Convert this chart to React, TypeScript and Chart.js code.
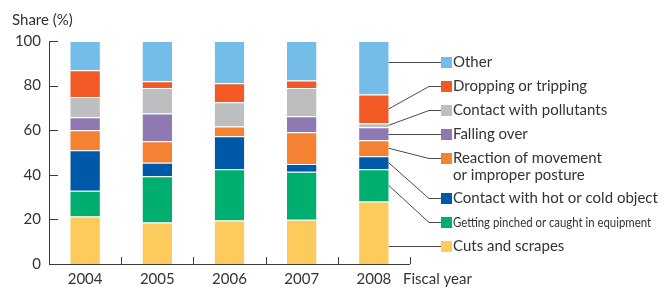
import React, { useEffect, useRef } from "react";
import { Chart, registerables } from "chart.js";

Chart.register(...registerables);

const years = ["2004", "2005", "2006", "2007", "2008"];
const yTicks = [0, 20, 40, 60, 80, 100];

const cuts = [21.3, 18.6, 19.5, 19.8, 28.0];
const pinched = [11.6, 20.8, 23.0, 21.6, 14.5];
const hotCold = [18.1, 6.0, 14.8, 3.4, 5.8];
const reaction = [9.0, 9.6, 4.4, 14.3, 7.2];
const fallingOver = [5.8, 12.5, 0, 7.1, 5.8];
const pollutants = [9.1, 11.4, 10.8, 12.7, 1.8];
const dropping = [12.0, 3.1, 8.6, 3.4, 12.9];
const other = [13.1, 18.0, 18.9, 17.7, 24.0];

const seriesLabels = [
  ["Cuts and scrapes"],
  ["Getting pinched or caught in equipment"],
  ["Contact with hot or cold object"],
  ["Reaction of movement", "or improper posture"],
  ["Falling over"],
  ["Contact with pollutants"],
  ["Dropping or tripping"],
  ["Other"],
];
const seriesData = [cuts, pinched, hotCold, reaction, fallingOver, pollutants, dropping, other];
const seriesColors = ["#FDCB5B", "#00AF6F", "#0058A8", "#F58233", "#8E79B2", "#BCBEC0", "#F15A24", "#74BDE8"];

// legend layout (y centers of first line, bottom-up order)
const legendY = [246, 221.5, 197.5, 158, 134, 110, 86, 62];

const FONT = "Lato, 'Open Sans', sans-serif";
const TEXT = "#333333";

const overlay = {
  id: "overlay",
  afterDraw(chart: any) {
    const ctx = chart.ctx;
    const { left, right, top, bottom } = chart.chartArea;
    const ys = chart.scales.y;
    const xs = chart.scales.x;
    ctx.save();
    ctx.strokeStyle = "#3a3a3a";
    ctx.lineWidth = 1;
    // axes
    ctx.beginPath();
    ctx.moveTo(Math.round(left) + 0.5, top);
    ctx.lineTo(Math.round(left) + 0.5, Math.round(bottom) + 0.5);
    ctx.lineTo(right, Math.round(bottom) + 0.5);
    ctx.stroke();
    // y ticks (inside)
    yTicks.forEach((v) => {
      const y = Math.round(ys.getPixelForValue(v)) + 0.5;
      ctx.beginPath();
      ctx.moveTo(left, y);
      ctx.lineTo(left + 9, y);
      ctx.stroke();
    });
    // x ticks at category boundaries
    const n = years.length;
    const w = (right - left) / n;
    for (let k = 1; k <= n; k++) {
      const x = Math.round(left + k * w) + 0.5;
      ctx.beginPath();
      ctx.moveTo(x, bottom);
      ctx.lineTo(x, bottom - 7);
      ctx.stroke();
    }
    // titles
    ctx.fillStyle = TEXT;
    ctx.font = `15px ${FONT}`;
    ctx.textBaseline = "middle";
    ctx.textAlign = "left";
    ctx.fillText("Share (%)", 12, 20);
    ctx.fillText("Fiscal year", 403, 279);

    // legend + leader lines
    const lastIdx = years.length - 1;
    const squareX = 441;
    const elbowX = 429;
    seriesLabels.forEach((lines, i) => {
      const meta = chart.getDatasetMeta(i);
      const bar = meta.data[lastIdx] as any;
      const ly = legendY[i];
      const barRight = bar.x + bar.width / 2;
      const segTop = Math.min(bar.y, bar.base);
      const segBot = Math.max(bar.y, bar.base);
      let ay: number;
      if (ly >= segTop + 2 && ly <= segBot - 2) ay = ly;
      else ay = (segTop + segBot) / 2;
      ctx.strokeStyle = "#4a4a4a";
      ctx.lineWidth = 1;
      ctx.beginPath();
      if (Math.abs(ay - ly) < 0.5) {
        ctx.moveTo(barRight, Math.round(ly) + 0.5);
        ctx.lineTo(squareX, Math.round(ly) + 0.5);
      } else {
        ctx.moveTo(barRight, ay);
        ctx.lineTo(elbowX, Math.round(ly) + 0.5);
        ctx.lineTo(squareX, Math.round(ly) + 0.5);
      }
      ctx.stroke();
      ctx.fillStyle = seriesColors[i];
      ctx.fillRect(squareX, Math.round(ly) - 5, 11, 11);
      ctx.fillStyle = TEXT;
      ctx.textAlign = "left";
      ctx.textBaseline = "middle";
      if (i === 1) {
        ctx.font = `14px ${FONT}`;
        const tw = ctx.measureText(lines[0]).width;
        const target = 198;
        ctx.save();
        ctx.translate(453, ly + 0.5);
        ctx.scale(target / tw, 1);
        ctx.fillText(lines[0], 0, 0);
        ctx.restore();
      } else {
        ctx.font = `15px ${FONT}`;
        lines.forEach((t, j) => ctx.fillText(t, 453, ly + 0.5 + j * 16.5));
      }
    });
    ctx.restore();
  },
};

export default function App() {
  const ref = useRef<HTMLCanvasElement | null>(null);
  useEffect(() => {
    if (!ref.current) return;
    const chart = new Chart(ref.current, {
      type: "bar",
      data: {
        labels: years,
        datasets: seriesData.map((d, i) => ({
          label: seriesLabels[i].join(" "),
          data: d,
          backgroundColor: seriesColors[i],
          borderColor: "#ffffff",
          borderWidth: { top: 1, left: 0, right: 0, bottom: 0 },
          borderSkipped: false,
          barPercentage: 0.41,
          categoryPercentage: 1,
        })),
      },
      options: {
        responsive: false,
        animation: false,
        layout: { padding: { top: 41, right: 256, left: 0, bottom: 0 } },
        plugins: { legend: { display: false }, tooltip: { enabled: false } },
        scales: {
          x: {
            stacked: true,
            grid: { display: false, drawTicks: false },
            border: { display: false },
            ticks: { color: TEXT, font: { family: FONT, size: 15 }, padding: 6, maxRotation: 0 },
            afterFit: (s: any) => {
              s.height = 25;
            },
          },
          y: {
            stacked: true,
            min: 0,
            max: 100,
            grid: { display: false, drawTicks: false },
            border: { display: false },
            ticks: { stepSize: 20, color: TEXT, font: { family: FONT, size: 15 }, padding: 8 },
            afterFit: (s: any) => {
              s.width = 49;
            },
          },
        },
      },
      plugins: [overlay],
    });
    return () => chart.destroy();
  }, []);
  return (
    <div style={{ position: "absolute", left: 0, top: 0, width: 666, height: 289, background: "#fff" }}>
      <canvas ref={ref} width={666} height={289} style={{ display: "block" }} />
    </div>
  );
}
